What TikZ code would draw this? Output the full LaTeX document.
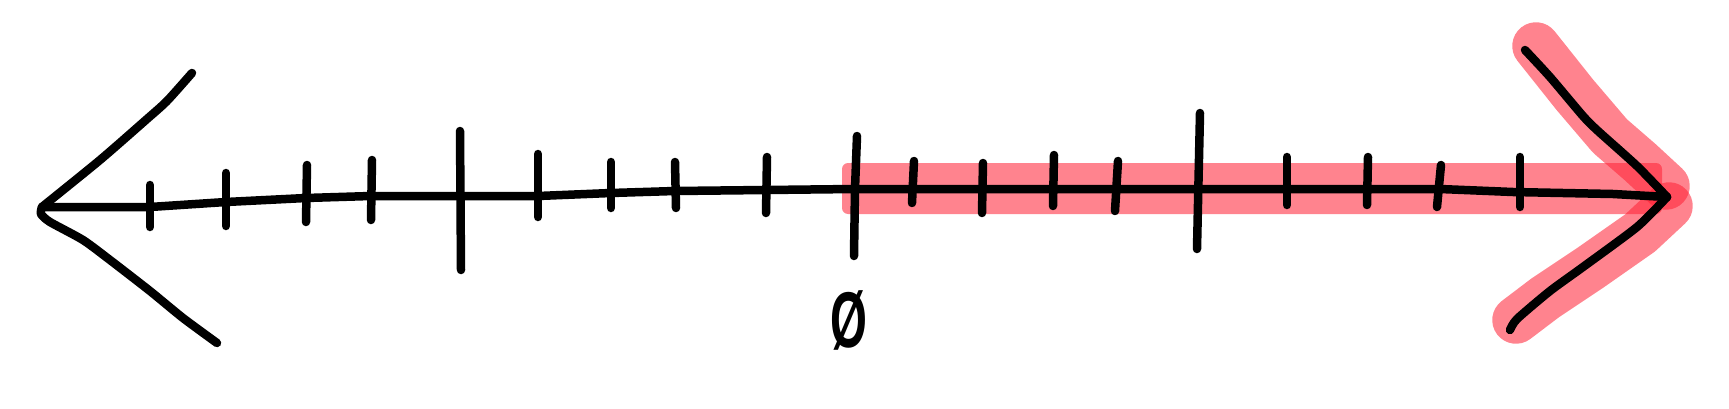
\documentclass[tikz,border=0pt]{standalone}
\usepackage{fontspec}
\newfontfamily\labelfont{Liberation Sans}
\definecolor{hilite}{RGB}{255,30,50}

\begin{document}
\begin{tikzpicture}[
	x=0.02cm, y=-0.02cm,
	% Line styles
	inkLine/.style={draw=black, line width=0.17cm, line cap=round, line join=round},
	tickMark/.style={inkLine},
	markerStroke/.style={draw=hilite, line width=0.95cm, line cap=round, line join=round, opacity=0.55},
	markerBand/.style={fill=hilite, opacity=0.55, rounded corners=0.12cm},
	% Text styles
	zeroText/.style={font=\labelfont\bfseries\fontsize{45}{45}\selectfont, inner sep=0pt}
	]
	
	\useasboundingbox (0,0) rectangle (1729,409);
	
	% =========================================================
	% 1. KEY POINTS
	% =========================================================
	
	\coordinate (leftTip) at (42,207);
	\coordinate (rightTip) at (1667,197);
	\coordinate (zeroTick) at (855,189);
	
	% =========================================================
	% 2. HIGHLIGHT (positive side)
	% =========================================================
	
	\fill[markerBand] (842,163) rectangle (1662,214);
	\draw[markerStroke] (1536,46) -- (1575,95) -- (1610,136) -- (1640,162) -- (1666,186);
	\draw[markerStroke] (1669,206) -- (1640,233) -- (1590,268) -- (1545,298) -- (1516,320);
	
	% =========================================================
	% 3. THE NUMBER LINE
	% =========================================================
	
	% Axis
	\draw[inkLine] (leftTip) -- (150,207) -- (226,202) -- (306,198) -- (371,196)
		-- (460,196) -- (538,196) -- (611,193) -- (675,191) -- (766,190)
		-- (zeroTick) -- (1440,189) -- (1513,192) -- (1613,194) -- (rightTip);
	
	% Left arrow head
	\draw[inkLine] plot[smooth, tension=0.4] coordinates {(192,73) (167,101) (147,119) (100,160) (leftTip)};
	\draw[inkLine] plot[smooth, tension=0.4] coordinates {(leftTip) (41,214) (50,222) (83,240) (110,260) (150,291) (183,318) (217,343)};
	
	% Right arrow head
	\draw[inkLine] plot[smooth, tension=0.4] coordinates {(1525,50) (1550,77) (1583,116) (1598,131) (1637,166) (rightTip)};
	\draw[inkLine] plot[smooth, tension=0.4] coordinates {(rightTip) (1637,227) (1583,267) (1550,291) (1517,319) (1510,330)};
	
	% Ticks, negative side
	\draw[tickMark] (150,185) -- (150,227);
	\draw[tickMark] (226,173) -- (226,226);
	\draw[tickMark] (307,165) -- (306,222);
	\draw[tickMark] (372,160) -- (371,220);
	\draw[tickMark] (460,131) -- (461,270);
	\draw[tickMark] (538,154) -- (538,217);
	\draw[tickMark] (611,162) -- (611,208);
	\draw[tickMark] (675,162) -- (676,208);
	\draw[tickMark] (767,157) -- (766,213);
	
	% Zero tick
	\draw[tickMark] (857,136) -- (zeroTick) -- (854,256);
	
	% Ticks, positive side
	\draw[tickMark] (914,161) -- (912,203);
	\draw[tickMark] (983,163) -- (982,213);
	\draw[tickMark] (1054,155) -- (1053,206);
	\draw[tickMark] (1118,161) -- (1115,211);
	\draw[tickMark] (1200,113) -- (1197,249);
	\draw[tickMark] (1287,157) -- (1287,205);
	\draw[tickMark] (1368,157) -- (1367,205);
	\draw[tickMark] (1441,165) -- (1437,207);
	\draw[tickMark] (1520,157) -- (1520,207);
	
	% Label
	\node[zeroText] (zeroLabel) at (849,320) {\scalebox{0.6}[1]{Ø}};
	
\end{tikzpicture}
\end{document}
